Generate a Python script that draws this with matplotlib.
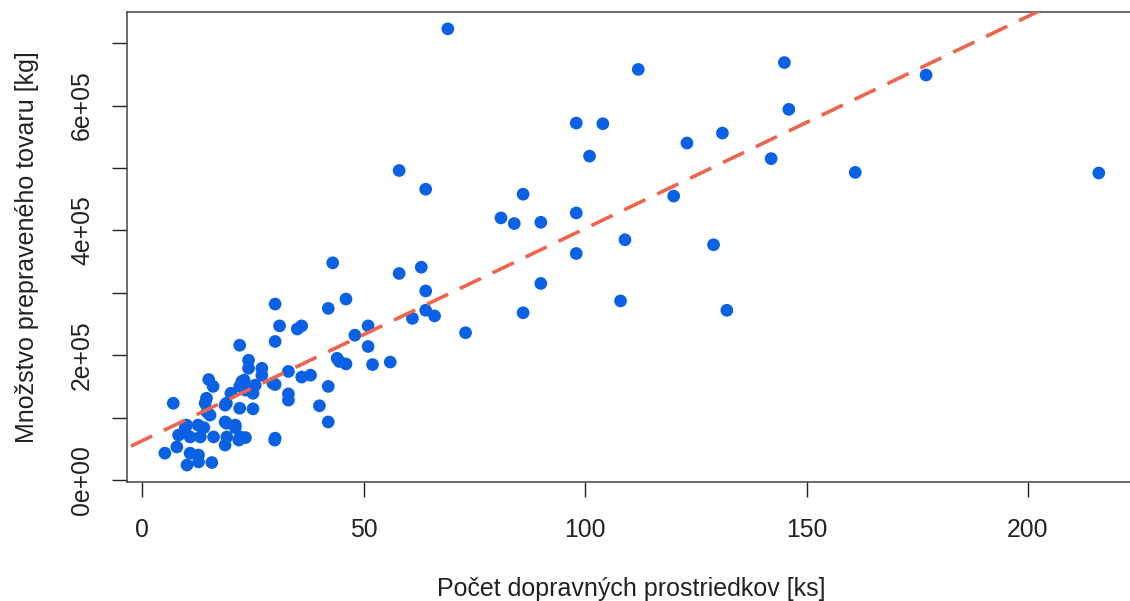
import numpy as np
import matplotlib
matplotlib.use('Agg')
from matplotlib import pyplot as plt

plt.rcParams['font.family'] = ['Liberation Sans', 'DejaVu Sans']

# pocet dopravnych prostriedkov [ks]
vozidla = [216, 177, 161, 146, 145, 142, 132, 131, 129, 123, 120, 112, 109, 108,
           104, 101, 98, 98, 98, 90, 90, 86, 84, 81, 86, 73, 69, 58, 64, 58, 63,
           64, 64, 61, 66, 43, 30, 42, 46, 31, 35, 36, 48, 51, 30, 22, 51, 44,
           46, 52, 56, 24, 24, 27, 27, 33, 36, 38, 30, 42, 33, 33, 40, 42, 15,
           16, 23, 22, 20, 25.5, 22.5, 23.3, 25, 29.5, 14.5, 14.2, 19, 22, 25,
           15.3, 19, 21, 10, 12.6, 30, 7, 14.6, 18.7, 9.7, 13.9, 18.7, 21, 8.2,
           10.8, 13.1, 16.1, 19.1, 22.1, 23.3, 7.8, 18.7, 21.8, 5.1, 10.8, 12.7,
           10.1, 12.7, 15.7, 29.9, 44.5]
# mnozstvo tovaru [tis. kg]
tovar = [492, 649, 493, 594, 669, 515, 272, 556, 377, 540, 455, 658, 385, 287,
         571, 519, 572, 428, 363, 413, 315, 458, 411, 420, 268, 236, 723, 496,
         466, 331, 341, 303, 272, 259, 263, 348, 282, 275, 290, 247, 242, 247,
         232, 247, 222, 216, 214, 195, 186, 185, 189, 192, 179, 179, 168, 174,
         165, 168, 153, 150, 138, 128, 119, 93, 161, 150, 160, 150, 139, 152,
         158, 144, 139, 155, 131, 123, 123, 115, 114, 104, 91, 88, 88, 88, 67,
         123, 109, 120, 84, 84, 93, 84, 72, 69, 69, 69, 69, 69, 68, 53, 56, 64,
         43, 43, 40, 24, 29, 28, 64, 190]

# regresna priamka odcitana z obrazka
intercept = 63000
slope = 3400

x = np.array(vozidla)
y = np.array(tovar) * 1000

fig = plt.figure(figsize=(11.3, 6.01), dpi=100)
ax = fig.add_axes([127/1130, (601-482)/601, (1136-127)/1130, (482-12)/601])

ax.scatter(x, y, s=84, color='#0B61E4', edgecolors='none', zorder=3)

xl = np.array([-10, 240])
ax.plot(xl, intercept + slope*xl, color='#EE654F', lw=2.6,
        dashes=(6.5, 3.6), zorder=4)

ax.set_xlim(-3.45, 224.4)
ax.set_ylim(-3200, 750000)

ax.set_xticks([0, 50, 100, 150, 200])
yt = np.arange(0, 800000, 100000)
ax.set_yticks(yt)
ax.set_yticklabels(['0e+00', '', '2e+05', '', '4e+05', '', '6e+05', ''],
                   rotation=90, va='center')
ax.tick_params(direction='out', length=10.8, width=1, labelsize=17.8,
               color='#222222', labelcolor='#222222')
ax.tick_params(axis='x', pad=15)
ax.tick_params(axis='y', pad=13)

for s in ax.spines.values():
    s.set_color('#444444')
    s.set_linewidth(1.1)

ax.set_xlabel('Počet dopravných prostriedkov [ks]', fontsize=18,
              color='#222222', labelpad=25)
ax.set_ylabel('Množstvo prepraveného tovaru [kg]', fontsize=18,
              color='#222222', labelpad=22)

fig.savefig('out.png', dpi=100)
